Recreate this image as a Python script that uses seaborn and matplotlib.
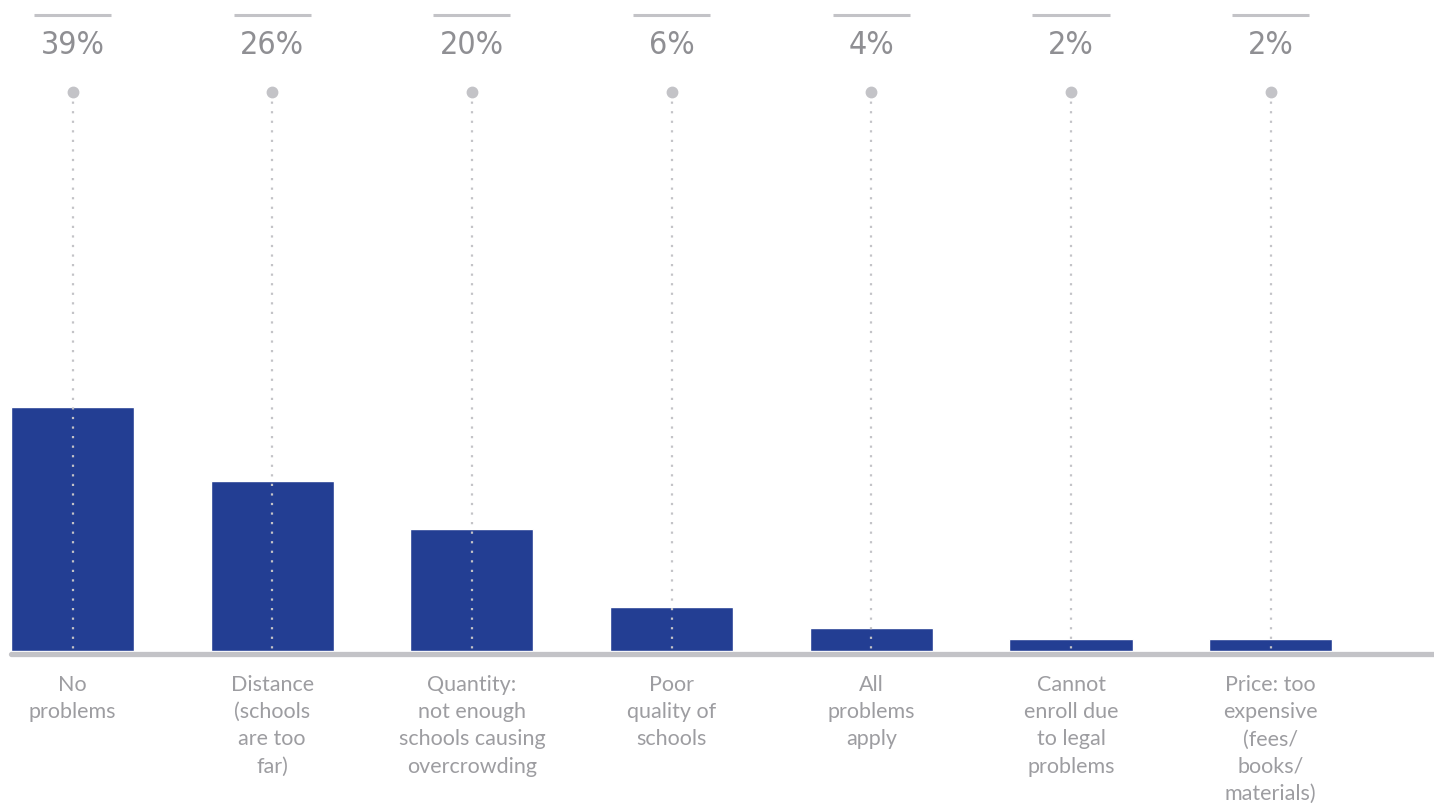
import seaborn as sns
import matplotlib.pyplot as plt
import pandas as pd

sns.set_theme(style="white")

# data
categories = ["No\nproblems", "Distance\n(schools\nare too\nfar)",
              "Quantity:\nnot enough\nschools causing\novercrowding",
              "Poor\nquality of\nschools", "All\nproblems\napply",
              "Cannot\nenroll due\nto legal\nproblems",
              "Price: too\nexpensive\n(fees/\nbooks/\nmaterials)"]
bar_heights = [39, 27.2, 19.5, 7.0, 3.7, 1.9, 1.9]
pct_labels = ["39%", "26%", "20%", "6%", "4%", "2%", "2%"]

df = pd.DataFrame({"cat": categories, "val": bar_heights})

plt.rcParams['font.family'] = ['Lato', 'DejaVu Sans']

W, H = 1434, 804
fig = plt.figure(figsize=(W / 100, H / 100), dpi=100)
ax = fig.add_axes([0, 0, 1, 1])

sns.barplot(data=df, x="cat", y="val", color="#233e93", width=0.616,
            saturation=1, ax=ax, zorder=2)

# map pixels to data
step = 199.7
x0 = 72.5
ppu = 244 / 39
base = 652
ax.set_xlim(-x0 / step, (W - x0) / step)
ax.set_ylim((base - H) / ppu, base / ppu)

def ypx(py):
    return (base - py) / ppu

grey = "#c3c3c7"
ax.axhline(ypx(654.5), xmin=11 / W, xmax=1, color=grey, lw=3.8, zorder=3)

for i, (cat, lab) in enumerate(zip(categories, pct_labels)):
    ax.plot([i - 0.193, i + 0.193], [ypx(16), ypx(16)], color=grey, lw=2.2,
            solid_capstyle="butt")
    ax.text(i, ypx(45), lab, ha="center", va="center", fontsize=23,
            family=["DejaVu Sans"], fontstretch="condensed", color="#8f8f93")
    ax.plot([i, i], [ypx(93), ypx(652)], color=grey, lw=1.6,
            linestyle=(0, (1, 3.3)), zorder=4)
    ax.plot(i, ypx(93), "o", color=grey, markersize=7.5, zorder=5)
    ax.text(i, ypx(675), cat, ha="center", va="top", fontsize=15.5,
            color="#9d9da1", linespacing=1.45)

ax.set_xlabel("")
ax.set_ylabel("")
ax.set_xticks([])
ax.set_yticks([])
sns.despine(ax=ax, left=True, bottom=True)

fig.savefig("out.png", dpi=100)
